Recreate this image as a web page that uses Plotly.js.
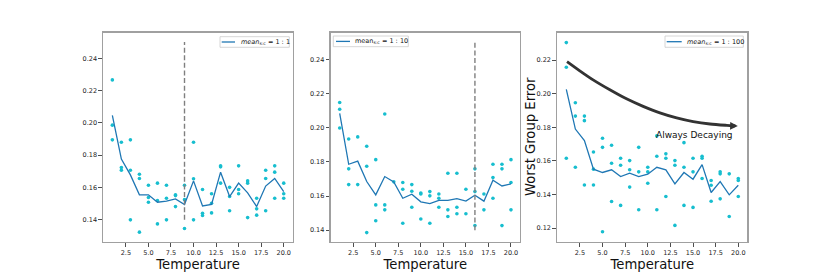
<!DOCTYPE html>
<html>
<head>
<meta charset="utf-8">
<script src="https://cdn.plot.ly/plotly-3.0.1.min.js"></script>
<style>html,body{margin:0;padding:0;background:#fff}#chart{width:830px;height:277px}</style>
</head>
<body>
<div id="chart"></div>
<script>
// ---------- data ----------
const temps = [1,2,3,4,5,6,7,8,9,10,11,12,13,14,15,16,17,18,19,20];
const xTicks = [2.5,5,7.5,10,12.5,15,17.5,20];
const yTicksA = [0.14,0.16,0.18,0.20,0.22,0.24];
const yTicksC = [0.12,0.14,0.16,0.18,0.20,0.22];

// panel 1 : mean 1:1
const mean1 = [0.2046,0.1776,0.1678,0.1555,0.1555,0.1509,0.1516,0.1530,0.1495,0.1641,0.1486,0.1495,0.1695,0.1544,0.1627,0.1567,0.1482,0.1609,0.1656,0.1575];
const runX1 = [1,1,1, 2,2,2, 3,3,3, 4,4,4, 5,5,5, 6,6,6, 7,7,7, 8,8,8, 9,9,9, 10,10,10, 11,11,11, 12,12,12, 13,13,13, 14,14,14, 15,15,15, 16,16,16, 17,17,17, 18,18,18, 19,19,19, 20,20,20];
const runY1 = [0.2266,0.1986,0.1895, 0.1880,0.1724,0.1707, 0.1895,0.1707,0.1400, 0.1682,0.1656,0.1324, 0.1614,0.1538,0.1509, 0.1627,0.1520,0.1375, 0.1614,0.1534,0.1400, 0.1550,0.1555,0.1482, 0.1614,0.1525,0.1346, 0.1880,0.1654,0.1400, 0.1588,0.1441,0.1427, 0.1561,0.1503,0.1443, 0.1734,0.1728,0.1627, 0.1601,0.1544,0.1456, 0.1734,0.1588,0.1561, 0.1641,0.1627,0.1414, 0.1534,0.1468,0.1429, 0.1707,0.1656,0.1456, 0.1734,0.1695,0.1534, 0.1627,0.1561,0.1534];
const thresholdX1 = [9,9];
const thresholdY = [0.14,0.25];

// panel 2 : mean 1:10
const mean2 = [0.2084,0.1786,0.1804,0.1685,0.1607,0.1714,0.1683,0.1587,0.1611,0.1566,0.1556,0.1575,0.1575,0.1585,0.1570,0.1605,0.1570,0.1692,0.1659,0.1671];
const runX2 = [1,1,1, 2,2,2, 3,3, 4,4,4, 5,5,5, 6,6,6, 7, 8,8,8, 9,9,9, 10,10,10, 11,11,11, 12,12,12, 13,13,13, 14,14,14, 15,15, 16,16,16, 17,17, 18,18,18, 19,19,19, 20,20,20];
const runY2 = [0.2147,0.2108,0.1998, 0.1934,0.1759,0.1667, 0.1946,0.1667, 0.1891,0.1774,0.1386, 0.1813,0.1548,0.1455, 0.2080,0.1548,0.1519, 0.1683, 0.1679,0.1640,0.1441, 0.1667,0.1628,0.1534, 0.1618,0.1612,0.1466, 0.1626,0.1601,0.1441, 0.1612,0.1587,0.1534, 0.1733,0.1519,0.1480, 0.1733,0.1534,0.1496, 0.1640,0.1496, 0.1759,0.1626,0.1427, 0.1612,0.1519, 0.1786,0.1708,0.1587, 0.1786,0.1759,0.1427, 0.1813,0.1679,0.1519];
const thresholdX2 = [16,16];

// panel 3 : mean 1:100
const mean3 = [0.2026,0.1790,0.1721,0.1551,0.1531,0.1547,0.1507,0.1527,0.1507,0.1521,0.1562,0.1547,0.1463,0.1531,0.1491,0.1578,0.1412,0.1477,0.1398,0.1455];
const runX3 = [1,1,1, 2,2,2, 3,3,3, 4,4,4, 5,5,5, 6,6,6, 7,7,7, 8,8,8, 9,9,9, 10,10,10, 11,11,11, 12,12,12, 13,13,13, 14,14,14, 15,15,15, 16,16,16, 17,17,17, 18,18,18, 19,19, 20,20,20];
const runY3 = [0.2305,0.2158,0.1616, 0.1947,0.1867,0.1562, 0.1867,0.1840,0.1457, 0.1653,0.1551,0.1457, 0.1735,0.1681,0.1178, 0.1693,0.1586,0.1358, 0.1616,0.1574,0.1335, 0.1602,0.1547,0.1444, 0.1681,0.1535,0.1309, 0.1562,0.1535,0.1467, 0.1749,0.1628,0.1309, 0.1642,0.1616,0.1388, 0.1602,0.1574,0.1216, 0.1709,0.1562,0.1335, 0.1616,0.1535,0.1323, 0.1628,0.1616,0.1495, 0.1483,0.1455,0.1360, 0.1535,0.1523,0.1374, 0.1523,0.1269, 0.1495,0.1483,0.1388];
const trendX = [1.08,2.49,3.96,5.81,7.65,9.49,11.34,13.19,15.02,16.87,18.72,19.63];
const trendY = [0.2192,0.2137,0.2083,0.2024,0.1970,0.1925,0.1886,0.1856,0.1834,0.1820,0.1812,0.1809];
const trendTip = [19.95, 0.1808];
const trendLabel = "Always Decaying";

const legendLabels = ["<i>mean</i><sub>s:c</sub> = 1 : 1", "mean<sub>s:c</sub> = 1 : 10", "<i>mean</i><sub>s:c</sub> = 1 : 100"];

// ---------- styles ----------
const FONT = "DejaVu Sans";
const C_LINE = "#1f77b4", C_PTS = "#17becf", C_DASH = "#7f7f7f", C_FRAME = "#a0a0a0";
const W = 830, H = 277;

function lineTrace(y, ax, name) {
  return {x: temps, y: y, type: "scatter", mode: "lines", name: name, showlegend: false,
    line: {color: C_LINE, width: 1.3}, xaxis: "x"+ax, yaxis: "y"+ax};
}
function ptsTrace(x, y, ax) {
  return {x: x, y: y, type: "scatter", mode: "markers", showlegend: false,
    marker: {color: C_PTS, size: 3.6}, xaxis: "x"+ax, yaxis: "y"+ax, hoverinfo: "skip"};
}
function dashTrace(x, ax) {
  return {x: x, y: thresholdY, type: "scatter", mode: "lines", showlegend: false,
    line: {color: C_DASH, width: 1.4, dash: "5px,2.6px"}, xaxis: "x"+ax, yaxis: "y"+ax};
}

const traces = [
  ptsTrace(runX1, runY1, ""), lineTrace(mean1, "", legendLabels[0]), dashTrace(thresholdX1, ""),
  ptsTrace(runX2, runY2, "2"), lineTrace(mean2, "2", legendLabels[1]), dashTrace(thresholdX2, "2"),
  ptsTrace(runX3, runY3, "3"), lineTrace(mean3, "3", legendLabels[2]),
  {x: trendX, y: trendY, type: "scatter", mode: "lines", showlegend: false,
   line: {color: "#333333", width: 2.8, shape: "spline", smoothing: 0.8}, xaxis: "x3", yaxis: "y3"}
];

function xAxis(domain, anchor) {
  return {domain: domain, anchor: anchor, range: [0, 21], tickvals: xTicks, tickformat: ".1f",
    showgrid: false, zeroline: false, showline: true, mirror: true, linecolor: C_FRAME, linewidth: 1.5,
    ticks: "outside", ticklen: 3.5, tickwidth: 0.8, tickcolor: "#222",
    tickfont: {family: FONT, size: 6.5, color: "#222"},
    title: {text: "Temperature", font: {family: FONT, size: 13.2, color: "#111"}, standoff: 3}, automargin: false};
}
function yAxis(range, ticks, anchor) {
  return {range: range, anchor: anchor, domain: [0.127, 0.882], tickvals: ticks, tickformat: ".2f",
    showgrid: false, zeroline: false, showline: true, mirror: true, linecolor: C_FRAME, linewidth: 1.5,
    ticks: "outside", ticklen: 3.5, tickwidth: 0.8, tickcolor: "#222",
    tickfont: {family: FONT, size: 6.5, color: "#222"}, automargin: false};
}

// legend boxes (pixel geometry -> paper coords)
const px = v => v / W, py = v => 1 - v / H;
const legendBoxes = [
  {x0: 220, x1: 289.3, y0: 36.7, y1: 47.3, s0: 221.7, s1: 235, sy: 42, tx: 239},
  {x0: 333.3, x1: 408.3, y0: 36, y1: 46.7, s0: 336, s1: 350, sy: 41.4, tx: 353},
  {x0: 665, x1: 743.3, y0: 36, y1: 47.3, s0: 666.7, s1: 681.7, sy: 41.7, tx: 685}
];
const shapes = [], annotations = [];
legendBoxes.forEach((b, i) => {
  shapes.push({type: "rect", xref: "paper", yref: "paper", x0: px(b.x0), x1: px(b.x1), y0: py(b.y1), y1: py(b.y0),
    line: {color: "#cccccc", width: 0.8}, fillcolor: "rgba(255,255,255,0.85)", layer: "above"});
  shapes.push({type: "line", xref: "paper", yref: "paper", x0: px(b.s0), x1: px(b.s1), y0: py(b.sy), y1: py(b.sy),
    line: {color: C_LINE, width: 1.3}, layer: "above"});
  annotations.push({xref: "paper", yref: "paper", x: px(b.tx), y: py(b.sy), xanchor: "left", yanchor: "middle",
    showarrow: false, text: legendLabels[i], font: {family: FONT, size: 6.5, color: "#111"}});
});

annotations.push(
  {xref: "x3", yref: "y3", x: trendTip[0], y: trendTip[1],
   axref: "x3", ayref: "y3", ax: trendX[trendX.length-1] - 0.4, ay: trendY[trendY.length-1],
   showarrow: true, arrowhead: 2, arrowsize: 0.7, arrowwidth: 2.2, arrowcolor: "#333333", text: " "},
  {xref: "x3", yref: "y3", x: 10.7, y: 0.1756, xanchor: "left", yanchor: "middle", showarrow: false,
   text: trendLabel, font: {family: FONT, size: 9, color: "#111"}},
  {xref: "paper", yref: "paper", x: px(531), y: py(137), xanchor: "center", yanchor: "middle", showarrow: false,
   textangle: -90, text: "Worst Group Error", font: {family: FONT, size: 13.2, color: "#111"}}
);

const layout = {
  width: W, height: H, margin: {l: 0, r: 0, t: 0, b: 0},
  paper_bgcolor: "#fff", plot_bgcolor: "#fff", showlegend: false,
  font: {family: FONT},
  xaxis: xAxis([0.1245, 0.3527], "y"),
  yaxis: yAxis([0.1264, 0.2558], yTicksA, "x"),
  xaxis2: xAxis([0.3984, 0.6265], "y2"),
  yaxis2: yAxis([0.1332, 0.2556], yTicksA, "x2"),
  xaxis3: xAxis([0.6714, 0.9004], "y3"),
  yaxis3: yAxis([0.1118, 0.2364], yTicksC, "x3"),
  shapes: shapes,
  annotations: annotations
};

Plotly.newPlot("chart", traces, layout, {displayModeBar: false, staticPlot: true});
</script>
</body>
</html>
